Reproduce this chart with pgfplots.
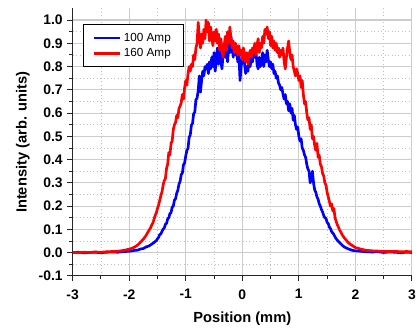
\documentclass[border=0pt]{standalone}
\usepackage{fontspec}
\setmainfont{Liberation Sans}
\usepackage{pgfplots}
\pgfplotsset{compat=1.18}
\begin{document}
\begin{tikzpicture}
\begin{axis}[
  scale only axis,
  width=254.5pt, height=200.7pt,
  xmin=-3, xmax=3, ymin=-0.1, ymax=1.05,
  axis x line*=bottom, axis y line*=left,
  axis line style={line width=0.8pt, black!85},
  xtick={-3,-2,-1,0,1,2,3},
  ytick={-0.1,0,0.1,0.2,0.3,0.4,0.5,0.6,0.7,0.8,0.9,1.0},
  minor x tick num=1, minor y tick num=1,
  tick align=outside,
  major tick length=4pt, minor tick length=2.5pt,
  tick style={line width=0.7pt, black!85},
  grid=both,
  major grid style={line width=0.8pt, black!20},
  minor grid style={line width=0.6pt, black!25, dotted},
  /pgf/number format/assume math mode=true,
  ticklabel style={font=\fontsize{10.4}{12}\selectfont\bfseries},
  yticklabel style={/pgf/number format/.cd, fixed, fixed zerofill, precision=1},
  xticklabel style={yshift=-2.5pt, /pgf/number format/.cd, fixed, precision=0},
  xlabel={Position (mm)},
  ylabel={Intensity (arb. units)},
  label style={font=\fontsize{11}{13}\selectfont\bfseries},
  xlabel style={yshift=-3pt},
  ylabel style={yshift=0pt},
  legend style={at={(0.0295,0.94)}, anchor=north west, draw=black, line width=0.6pt,
    font=\fontsize{8.8}{10}\selectfont, inner xsep=7.5pt, inner ysep=4pt, row sep=0pt, legend cell align=left},
  legend image code/.code={\draw[#1, line width=1.6pt] (0pt,0pt) -- (19.5pt,0pt);},
]
\addplot[blue, line width=2pt, line join=round] coordinates {
(-3.00,0.000)(-2.90,0.002)(-2.80,-0.001)(-2.70,0.001)(-2.60,0.002)(-2.50,0.000)(-2.40,0.002)(-2.30,0.003)(-2.20,0.002)(-2.10,0.005)
(-2.00,0.006)(-1.95,0.008)(-1.90,0.010)(-1.85,0.011)(-1.80,0.016)(-1.75,0.018)(-1.70,0.025)(-1.65,0.029)(-1.60,0.037)(-1.56,0.044)
(-1.52,0.052)(-1.50,0.060)(-1.48,0.066)(-1.46,0.078)(-1.44,0.080)(-1.42,0.092)(-1.40,0.101)(-1.38,0.106)(-1.36,0.122)(-1.34,0.126)
(-1.32,0.145)(-1.30,0.150)(-1.28,0.168)(-1.26,0.172)(-1.24,0.196)(-1.22,0.200)(-1.20,0.226)(-1.18,0.232)(-1.16,0.256)(-1.14,0.268)
(-1.12,0.295)(-1.10,0.306)(-1.08,0.336)(-1.06,0.342)(-1.04,0.378)(-1.02,0.386)(-1.00,0.416)(-0.98,0.440)(-0.96,0.448)(-0.94,0.496)
(-0.92,0.506)(-0.90,0.548)(-0.88,0.556)(-0.86,0.598)(-0.84,0.604)(-0.82,0.658)(-0.80,0.664)(-0.78,0.696)(-0.76,0.760)(-0.74,0.690)
(-0.72,0.740)(-0.70,0.780)(-0.68,0.760)(-0.66,0.800)(-0.64,0.790)(-0.62,0.810)(-0.60,0.770)(-0.58,0.820)(-0.56,0.790)(-0.54,0.840)
(-0.52,0.800)(-0.50,0.860)(-0.48,0.780)(-0.46,0.830)(-0.44,0.880)(-0.42,0.810)(-0.40,0.870)(-0.38,0.830)(-0.36,0.790)(-0.34,0.850)
(-0.32,0.890)(-0.30,0.840)(-0.28,0.870)(-0.26,0.820)(-0.24,0.900)(-0.22,0.860)(-0.20,0.930)(-0.18,0.880)(-0.16,0.840)(-0.14,0.890)
(-0.12,0.850)(-0.10,0.870)(-0.08,0.820)(-0.06,0.850)(-0.04,0.740)(-0.02,0.800)(0.00,0.840)(0.02,0.860)(0.04,0.810)(0.06,0.770)
(0.08,0.800)(0.10,0.780)(0.12,0.830)(0.14,0.800)(0.16,0.850)(0.18,0.820)(0.20,0.880)(0.22,0.840)(0.24,0.870)(0.26,0.810)
(0.28,0.790)(0.30,0.840)(0.32,0.800)(0.34,0.820)(0.36,0.860)(0.38,0.800)(0.40,0.850)(0.42,0.820)(0.44,0.870)(0.46,0.830)
(0.48,0.800)(0.50,0.820)(0.52,0.790)(0.54,0.810)(0.56,0.770)(0.58,0.780)(0.60,0.750)(0.62,0.760)(0.64,0.730)(0.66,0.720)
(0.68,0.700)(0.70,0.710)(0.72,0.680)(0.74,0.660)(0.76,0.680)(0.78,0.640)(0.80,0.650)(0.82,0.610)(0.84,0.640)(0.86,0.600)
(0.88,0.620)(0.90,0.570)(0.92,0.590)(0.94,0.550)(0.96,0.530)(0.98,0.540)(1.00,0.500)(1.02,0.480)(1.04,0.490)(1.06,0.450)
(1.08,0.440)(1.10,0.420)(1.12,0.410)(1.14,0.380)(1.16,0.360)(1.18,0.350)(1.20,0.300)(1.22,0.320)(1.24,0.350)(1.26,0.300)
(1.28,0.270)(1.30,0.260)(1.32,0.240)(1.34,0.230)(1.36,0.210)(1.38,0.200)(1.40,0.185)(1.42,0.175)(1.44,0.160)(1.46,0.150)
(1.48,0.148)(1.50,0.130)(1.52,0.125)(1.54,0.110)(1.56,0.103)(1.58,0.090)(1.60,0.085)(1.62,0.078)(1.64,0.068)(1.66,0.060)
(1.68,0.054)(1.70,0.048)(1.75,0.036)(1.80,0.025)(1.85,0.019)(1.90,0.014)(1.95,0.010)(2.00,0.008)(2.10,0.006)(2.20,0.004)
(2.30,0.003)(2.40,0.004)(2.50,0.001)(2.60,0.003)(2.70,0.002)(2.80,0.000)(2.90,0.002)(3.00,0.001)
};
\addlegendentry{100 Amp}
\addplot[red, line width=2pt, line join=round] coordinates {
(-3.00,0.001)(-2.90,0.000)(-2.80,0.002)(-2.70,0.001)(-2.60,0.003)(-2.50,0.002)(-2.40,0.004)(-2.30,0.005)(-2.20,0.006)(-2.10,0.010)
(-2.00,0.015)(-1.95,0.019)(-1.90,0.025)(-1.85,0.033)(-1.80,0.045)(-1.75,0.058)(-1.70,0.075)(-1.66,0.092)(-1.62,0.108)(-1.60,0.120)
(-1.58,0.128)(-1.56,0.145)(-1.54,0.160)(-1.52,0.172)(-1.50,0.190)(-1.48,0.205)(-1.46,0.225)(-1.44,0.245)(-1.42,0.262)(-1.40,0.290)
(-1.38,0.310)(-1.36,0.318)(-1.34,0.362)(-1.32,0.380)(-1.30,0.430)(-1.28,0.420)(-1.26,0.470)(-1.24,0.480)(-1.22,0.530)(-1.20,0.550)
(-1.18,0.560)(-1.16,0.590)(-1.14,0.580)(-1.12,0.620)(-1.10,0.630)(-1.08,0.645)(-1.06,0.680)(-1.04,0.660)(-1.02,0.710)(-1.00,0.740)
(-0.98,0.720)(-0.96,0.770)(-0.94,0.800)(-0.92,0.780)(-0.90,0.810)(-0.88,0.800)(-0.86,0.850)(-0.84,0.830)(-0.82,0.880)(-0.80,0.900)
(-0.78,0.990)(-0.76,0.930)(-0.74,0.880)(-0.72,0.940)(-0.70,0.900)(-0.68,0.960)(-0.66,0.920)(-0.64,1.000)(-0.62,0.950)(-0.60,0.990)
(-0.58,0.910)(-0.56,0.970)(-0.54,0.930)(-0.52,0.890)(-0.50,0.950)(-0.48,0.910)(-0.46,0.960)(-0.44,0.900)(-0.42,0.940)(-0.40,0.870)
(-0.38,0.920)(-0.36,0.880)(-0.34,0.840)(-0.32,0.890)(-0.30,0.930)(-0.28,0.870)(-0.26,0.950)(-0.24,0.900)(-0.22,0.970)(-0.20,0.920)
(-0.18,0.880)(-0.16,0.910)(-0.14,0.860)(-0.12,0.900)(-0.10,0.880)(-0.08,0.850)(-0.06,0.890)(-0.04,0.850)(-0.02,0.870)(0.00,0.830)
(0.02,0.880)(0.04,0.850)(0.06,0.820)(0.08,0.860)(0.10,0.810)(0.12,0.850)(0.14,0.870)(0.16,0.840)(0.18,0.880)(0.20,0.860)
(0.22,0.900)(0.24,0.850)(0.26,0.890)(0.28,0.920)(0.30,0.860)(0.32,0.900)(0.34,0.880)(0.36,0.930)(0.38,0.900)(0.40,0.960)
(0.42,0.940)(0.44,0.970)(0.46,0.920)(0.48,0.950)(0.50,0.890)(0.52,0.930)(0.54,0.880)(0.56,0.910)(0.58,0.870)(0.60,0.900)
(0.62,0.860)(0.64,0.880)(0.66,0.840)(0.68,0.870)(0.70,0.850)(0.72,0.880)(0.74,0.820)(0.76,0.790)(0.78,0.840)(0.80,0.880)
(0.82,0.910)(0.84,0.860)(0.86,0.830)(0.88,0.850)(0.90,0.800)(0.92,0.780)(0.94,0.760)(0.96,0.790)(0.98,0.770)(1.00,0.740)
(1.02,0.760)(1.04,0.710)(1.06,0.740)(1.08,0.680)(1.10,0.640)(1.12,0.650)(1.14,0.600)(1.16,0.570)(1.18,0.580)(1.20,0.530)
(1.22,0.550)(1.24,0.490)(1.26,0.500)(1.28,0.460)(1.30,0.440)(1.32,0.470)(1.34,0.410)(1.36,0.420)(1.38,0.380)(1.40,0.370)
(1.42,0.340)(1.44,0.330)(1.46,0.300)(1.48,0.290)(1.50,0.260)(1.52,0.240)(1.54,0.220)(1.56,0.200)(1.58,0.210)(1.60,0.180)
(1.62,0.190)(1.64,0.150)(1.66,0.135)(1.68,0.120)(1.70,0.110)(1.72,0.098)(1.74,0.090)(1.76,0.080)(1.78,0.072)(1.80,0.065)
(1.85,0.050)(1.90,0.038)(1.95,0.030)(2.00,0.022)(2.10,0.015)(2.20,0.010)(2.30,0.008)(2.40,0.007)(2.50,0.006)(2.60,0.005)
(2.70,0.006)(2.80,0.004)(2.90,0.005)(3.00,0.004)
};
\addlegendentry{160 Amp}
\end{axis}
\pgfresetboundingbox
\path[use as bounding box] ([shift={(-54.5pt,-39.8pt)}]current axis.south west) rectangle ([shift={(5.3pt,6.3pt)}]current axis.north east);
\end{tikzpicture}
\end{document}
